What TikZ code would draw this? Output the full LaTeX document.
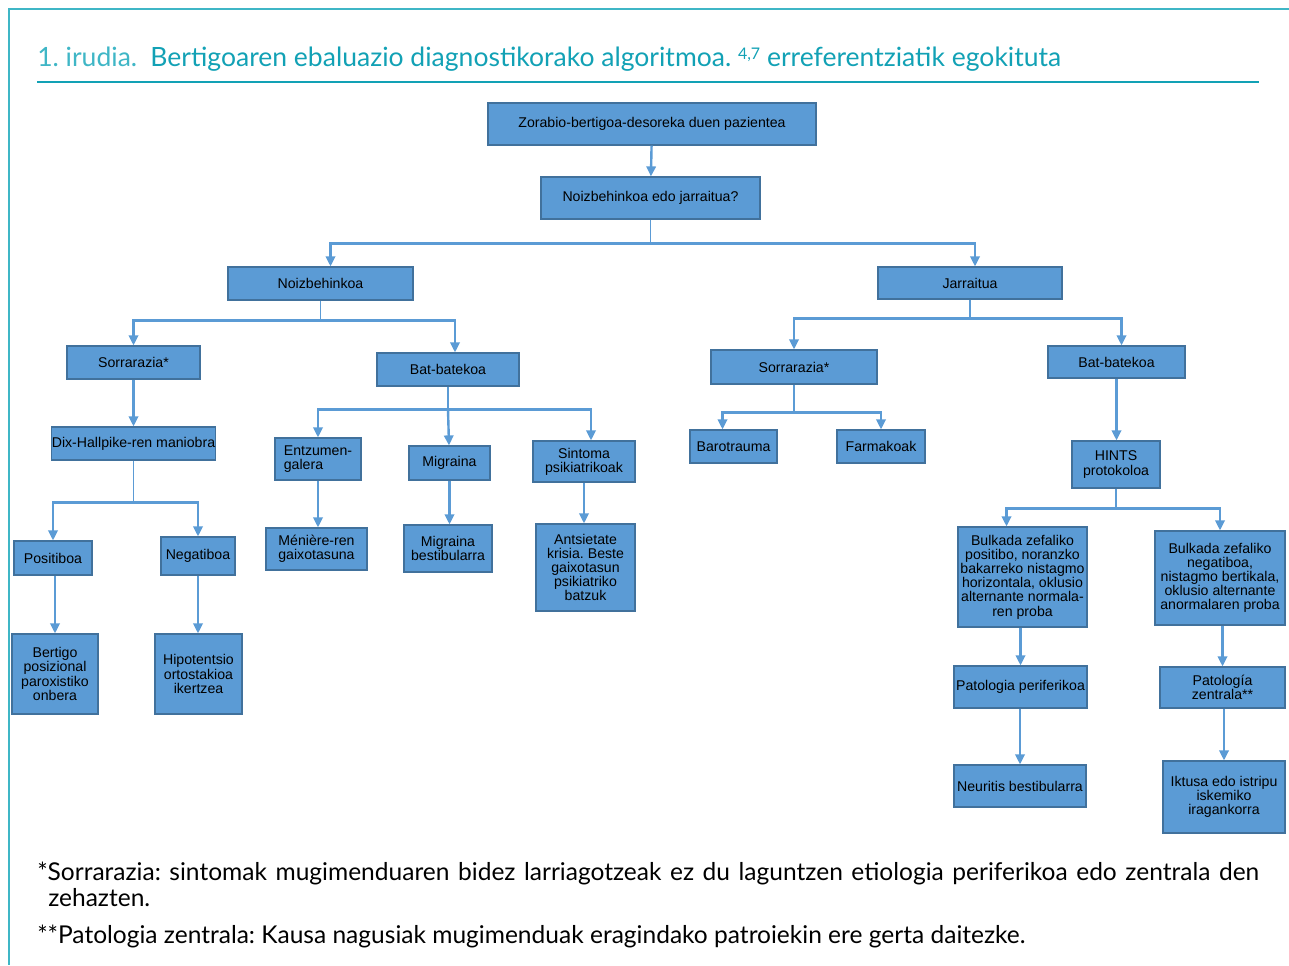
\documentclass[tikz,border=0pt]{standalone}
\usepackage{fontspec}
\setmainfont{Liberation Sans}
\newfontfamily\capfont{Lato}
\usetikzlibrary{arrows.meta,positioning,calc}
\definecolor{boxblue}{HTML}{5B9BD5}
\definecolor{boxedge}{HTML}{41719C}
\definecolor{titleteal}{HTML}{12A1B5}
\definecolor{lightteal}{HTML}{3FB6C6}
\frenchspacing

\begin{document}
\begin{tikzpicture}[x=0.75pt, y=-0.75pt, >={Triangle[length=7.5pt,width=7pt]},
    block/.style={
            draw=boxedge,
            fill=boxblue,
            rectangle,
            line width=0.9pt,
            align=center,
            inner sep=1pt,
            font=\fontsize{10.6}{10.6}\selectfont
        },
        wh/.style 2 args={minimum width=#1*0.75pt, minimum height=#2*0.75pt},
        arrow/.style={->, draw=boxblue, line width=1.8pt},
        bus/.style={draw=boxblue, line width=1.3pt},
        note/.style={anchor=base west, inner sep=0pt, font=\capfont\fontsize{18.4}{20}\selectfont}
]
    \useasboundingbox (0,0) rectangle (1289,965);

    % frame and title
    \draw [lightteal, line width=1pt] (1289,9) -- (9,9) -- (9,965);
    \node [anchor=base west, inner sep=0pt, text=titleteal,
           font=\capfont\fontsize{19.9}{22}\selectfont] (title) at (37,66)
        {{\color{lightteal}1. irudia.}\enspace Bertigoaren ebaluazio diagnostikorako algoritmoa. {\fontsize{12}{12}\selectfont\raisebox{5pt}{4,7}} erreferentziatik egokituta};
    \draw [titleteal, line width=2.2pt] (37,82) -- (1259,82);

    % top
    \node [block, wh={328}{42}] (zorabio) at (652,124) {Zorabio-bertigoa-desoreka duen pazientea};
    \node [block, wh={219}{42}] (galdera) at (650.5,198) {Noizbehinkoa edo jarraitua?};
    \node [block, wh={185}{33}] (noiz) at (320.5,283.5) {Noizbehinkoa};
    \node [block, wh={184}{32}] (jarr) at (970,283) {Jarraitua};

    % second level
    \node [block, wh={133}{33}] (sorrL) at (133.5,362.5) {Sorrarazia*};
    \node [block, wh={142}{33}] (batL) at (448,369.5) {Bat-batekoa};
    \node [block, wh={166}{34}] (sorrR) at (794,367) {Sorrarazia*};
    \node [block, wh={137}{32}] (batR) at (1116.5,362) {Bat-batekoa};

    % third level
    \node [block, wh={161}{33}, inner sep=0pt] (dix) at (133.5,443.5) {Dix-Hallpike-ren maniobra};
    \node [block, wh={86}{42}, align=left] (entzumen) at (318,459) {Entzumen-\\galera};
    \node [block, wh={81}{34}] (migraina) at (449.5,463) {Migraina};
    \node [block, wh={102}{41}] (sintoma) at (584,461.5) {Sintoma\\psikiatrikoak};
    \node [block, wh={87}{33}] (baro) at (733.5,446.5) {Barotrauma};
    \node [block, wh={88}{33}] (farma) at (881,446.5) {Farmakoak};
    \node [block, wh={88}{47}] (hints) at (1116,464.5) {HINTS\\protokoloa};

    % fourth level
    \node [block, wh={78}{34}] (posi) at (53,558) {Positiboa};
    \node [block, wh={74}{38}] (nega) at (198,556) {Negatiboa};
    \node [block, wh={101}{42}] (meniere) at (316.5,549) {Ménière-ren\\gaixotasuna};
    \node [block, wh={88}{47}] (migbest) at (448,548.5) {Migraina\\bestibularra};
    \node [block, wh={99}{87}] (antsi) at (585.5,567.5) {Antsietate\\krisia. Beste\\gaixotasun\\psikiatriko\\batzuk};
    \node [block, wh={129}{100}, inner sep=0pt] (bulkpos) at (1022.5,577) {Bulkada zefaliko\\positibo, noranzko\\bakarreko nistagmo\\horizontala, oklusio\\alternante normala-\\ren proba};
    \node [block, wh={130}{94}, inner sep=0pt] (bulkneg) at (1220,578) {Bulkada zefaliko\\negatiboa,\\nistagmo bertikala,\\oklusio alternante\\anormalaren proba};

    % bottom
    \node [block, wh={86}{80}] (bertigo) at (55,674) {Bertigo\\posizional\\paroxistiko\\onbera};
    \node [block, wh={87}{80}] (hipo) at (198.5,674) {Hipotentsio\\ortostakioa\\ikertzea};
    \node [block, wh={133}{42}, inner sep=0pt] (patper) at (1020.5,687) {Patologia periferikoa};
    \node [block, wh={125}{41}] (patzen) at (1222.5,687.5) {Patología\\zentrala**};
    \node [block, wh={132}{42}] (neuritis) at (1020,786) {Neuritis bestibularra};
    \node [block, wh={122}{72}] (iktusa) at (1224,797) {Iktusa edo istripu\\iskemiko\\iragankorra};

    % connectors
    \draw [arrow] (zorabio) -- (galdera);
    \draw [bus] (galdera.south) -- ++(0,24) coordinate (b1);
    \draw [arrow] (b1) -| ($(noiz.north)+(10,0)$);
    \draw [arrow] (b1) -| ($(jarr.north)+(5,0)$);

    \draw [bus] (noiz.south) -- ++(0,20) coordinate (b2);
    \draw [arrow] (b2) -| (sorrL);
    \draw [arrow] (b2) -| ($(batL.north)+(7,0)$);
    \draw [bus] (jarr.south) -- ++(0,19) coordinate (b3);
    \draw [arrow] (b3) -| (sorrR);
    \draw [arrow] (b3) -| ($(batR.north)+(5,0)$);

    \draw [arrow] (sorrL) -- (dix);
    \draw [bus] (dix.south) -- ++(0,42) coordinate (b4);
    \draw [arrow] (b4) -| (posi);
    \draw [arrow] (b4) -| (nega);
    \draw [arrow] (posi.south -| bertigo.north) -- (bertigo);
    \draw [arrow] (nega) -- (nega |- hipo.north);

    \draw [bus] (batL.south) -- ++(0,23) coordinate (b5);
    \draw [arrow] (b5) -| (entzumen);
    \draw [arrow] (b5) -- (migraina);
    \draw [arrow] (b5) -| ($(sintoma.north)+(7,0)$);
    \draw [arrow] (entzumen) -- (meniere.north -| entzumen.south);
    \draw [arrow] (migraina) -- (migbest.north -| migraina.south);
    \draw [arrow] (sintoma) -- (antsi.north -| sintoma.south);

    \draw [bus] (sorrR.south) -- ++(0,28) coordinate (b6);
    \draw [arrow] (b6) -| ($(baro.north)+(-11,0)$);
    \draw [arrow] (b6) -| (farma);

    \draw [arrow] (batR) -- (hints.north -| batR.south);
    \draw [bus] (hints.south) -- ++(0,20) coordinate (b7);
    \draw [arrow] (b7) -| ($(bulkpos.north)+(-16,0)$);
    \draw [arrow] (b7) -| (bulkneg);
    \draw [arrow] (bulkpos.south -| patper.north) -- (patper);
    \draw [arrow] (bulkneg.south -| patzen.north) -- (patzen);
    \draw [arrow] (patper.south -| neuritis.north) -- (neuritis);
    \draw [arrow] (patzen.south -| iktusa.north) -- (iktusa);

    % notes
    \node [note] (fn1) at (37,880) {\makebox[916.5pt][s]{*Sorrarazia: sintomak mugimenduaren bidez larriagotzeak ez du laguntzen etiologia periferikoa edo zentrala den}};
    \node [note] (fn2) at (48,906) {zehazten.};
    \node [note] (fn3) at (37,943) {**Patologia zentrala: Kausa nagusiak mugimenduak eragindako patroiekin ere gerta daitezke.};
\end{tikzpicture}
\end{document}
